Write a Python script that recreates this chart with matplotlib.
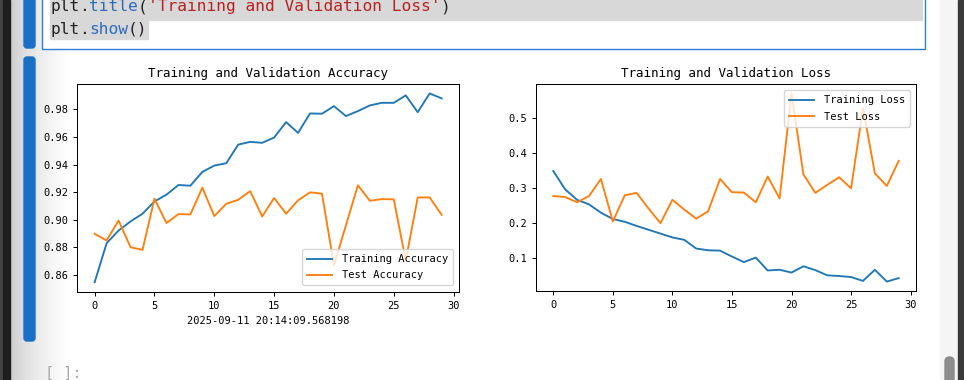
import numpy as np
import matplotlib
matplotlib.use("Agg")
import matplotlib.pyplot as plt
from matplotlib.patches import Rectangle, FancyBboxPatch

plt.rcParams['font.family'] = ['DejaVu Sans Mono', 'DejaVu Sans']

# ===== data =====
epochs = list(range(30))
train_acc = [0.8547, 0.8830, 0.8922, 0.8988, 0.9044, 0.9133, 0.9182, 0.9252, 0.9247, 0.9347,
             0.9393, 0.9410, 0.9545, 0.9565, 0.9558, 0.9596, 0.9708, 0.9630, 0.9771, 0.9769,
             0.9824, 0.9752, 0.9788, 0.9829, 0.9848, 0.9848, 0.9902, 0.9780, 0.9916, 0.9880]
test_acc = [0.8898, 0.8850, 0.8995, 0.8801, 0.8782, 0.9153, 0.8976, 0.9041, 0.9039, 0.9233,
            0.9027, 0.9116, 0.9145, 0.9208, 0.9024, 0.9158, 0.9044, 0.9141, 0.9199, 0.9189,
            0.8670, 0.8960, 0.9250, 0.9138, 0.9150, 0.9148, 0.8704, 0.9162, 0.9162, 0.9036]
train_loss = [0.349, 0.296, 0.266, 0.253, 0.229, 0.211, 0.203, 0.191, 0.180, 0.169,
              0.158, 0.151, 0.126, 0.121, 0.120, 0.103, 0.087, 0.100, 0.063, 0.065,
              0.057, 0.075, 0.064, 0.049, 0.047, 0.044, 0.033, 0.065, 0.031, 0.041]
test_loss = [0.277, 0.274, 0.259, 0.277, 0.326, 0.204, 0.279, 0.286, 0.241, 0.199,
             0.266, 0.238, 0.212, 0.233, 0.326, 0.288, 0.287, 0.259, 0.333, 0.270,
             0.572, 0.339, 0.286, 0.309, 0.331, 0.299, 0.530, 0.342, 0.306, 0.378]
timestamp = "2025-09-11 20:14:09.568198"
code_line1 = [("plt", "#222222"), (".", "#222222"), ("title", "#2c6bbf"), ("(", "#222222"),
              ("'Training and Validation Loss'", "#ba2121"), (")", "#222222")]
code_line2 = [("plt", "#222222"), (".", "#222222"), ("show", "#2c6bbf"), ("()", "#222222")]

# ===== figure (pixel helpers) =====
W, H = 964, 380
fig = plt.figure(figsize=(W / 100, H / 100), dpi=100)
fig.patch.set_facecolor("white")

def rect(x0, y0, x1, y1):
    return [x0 / W, 1 - y1 / H, (x1 - x0) / W, (y1 - y0) / H]

# notebook chrome
bg = fig.add_axes([0, 0, 1, 1], zorder=-1)
bg.axis("off")
grad = np.linspace(0, 1, 60) ** 0.6
img = np.ones((2, 60, 3)) * (0.78 + 0.22 * grad)[None, :, None]
bg.imshow(img, extent=(10, 68, H, 0), aspect="auto", interpolation="bilinear", zorder=0)
bg.set_xlim(0, W)
bg.set_ylim(H, 0)
bg.add_patch(Rectangle((0, 0), 3, H, color="#444444"))
bg.add_patch(Rectangle((3, 0), 7, H, color="#1e1e1e"))
bg.add_patch(Rectangle((940, 0), 18, H, color="#f5f5f5"))
bg.add_patch(Rectangle((958, 0), 6, H, color="#3a3a3a"))
bg.add_patch(FancyBboxPatch((945, 357), 9, 40, boxstyle="round,pad=0,rounding_size=4.5",
                            color="#8c8c8c"))
# cell indicators
bg.add_patch(FancyBboxPatch((24, -10), 11, 58, boxstyle="round,pad=0,rounding_size=3",
                            color="#1a6fc7"))
bg.add_patch(FancyBboxPatch((24, 57), 11, 284, boxstyle="round,pad=0,rounding_size=3",
                            color="#1a6fc7"))
# code cell
bg.add_patch(Rectangle((42, -5), 883, 54, facecolor="white", edgecolor="#2f7fd8", lw=1.0))
bg.add_patch(Rectangle((50, 0), 872, 20, color="#d8d8d8"))
bg.add_patch(Rectangle((50, 21), 98, 18, color="#d8d8d8"))
cw = 9.75
for line, base in ((code_line1, 11), (code_line2, 34)):
    n = 0
    for tok, col in line:
        bg.text(50 + n * cw, base, tok, color=col, fontsize=11.7, va="baseline", ha="left")
        n += len(tok)
bg.text(45, 366, "[ ]:", color="#a8a8a8", fontsize=11, va="top", ha="left")

# ===== plots =====
lw = 1.35
leg_kw = dict(fontsize=7.5, borderpad=0.48, labelspacing=0.6, handletextpad=0.96,
              borderaxespad=0.6, handlelength=2.4)

ax1 = fig.add_axes(rect(77.3, 84, 459, 291.7))
ax1.plot(epochs, train_acc, label="Training Accuracy", lw=lw)
ax1.plot(epochs, test_acc, label="Test Accuracy", lw=lw)
ax1.legend(loc="lower right", **leg_kw)
ax1.set_title("Training and Validation Accuracy", fontsize=9, pad=5.4)
ax1.set_xlabel(timestamp, fontsize=7.5, labelpad=4)
ax1.set_xticks([0, 5, 10, 15, 20, 25, 30])

ax2 = fig.add_axes(rect(536, 84, 916, 291))
ax2.plot(epochs, train_loss, label="Training Loss", lw=lw)
ax2.plot(epochs, test_loss, label="Test Loss", lw=lw)
ax2.legend(loc="upper right", **leg_kw)
ax2.set_title("Training and Validation Loss", fontsize=9, pad=5.4)
ax2.set_xticks([0, 5, 10, 15, 20, 25, 30])

for ax in (ax1, ax2):
    ax.tick_params(labelsize=7.5, length=3.2, pad=3.2, width=0.72)
    for s in ax.spines.values():
        s.set_linewidth(0.72)

fig.savefig("out.png", dpi=100)
